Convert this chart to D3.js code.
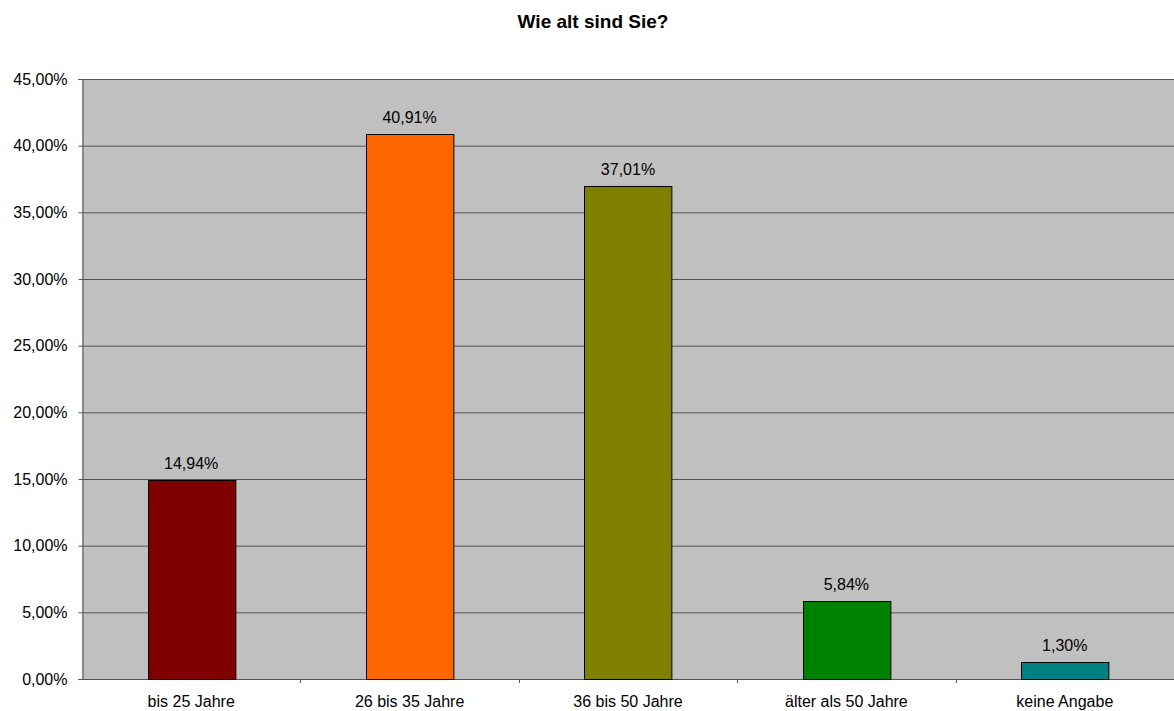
<!DOCTYPE html>
<html><head><meta charset="utf-8">
<script src="https://cdn.jsdelivr.net/npm/d3@7"></script>
<style>body{margin:0;background:#fff}svg{display:block;font-family:"Liberation Sans",Arial,sans-serif}</style>
</head><body><svg id="c" width="1174" height="711"></svg>
<script>
const title = "Wie alt sind Sie?";
const categories = ["bis 25 Jahre","26 bis 35 Jahre","36 bis 50 Jahre","älter als 50 Jahre","keine Angabe"];
const values = [14.94, 40.91, 37.01, 5.84, 1.30];
const colors = ["#800000","#ff6600","#808000","#008000","#008080"];
const yTicks = [0,5,10,15,20,25,30,35,40,45];

const svg = d3.select("#c");
const m = {left:82, right:1174, top:79, bottom:679};
const fmt = v => v.toFixed(2).replace(".", ",") + "%";
const FS = 16;

const x = d3.scaleBand().domain(categories).range([m.left, m.right]).paddingInner(0.6).paddingOuter(0.3);
const xc = d3.scaleBand().domain(categories).range([m.left, m.right]);
const y = d3.scaleLinear().domain([0,45]).range([m.bottom, m.top]);

svg.append("rect").attr("x",m.left).attr("y",m.top).attr("width",m.right-m.left).attr("height",m.bottom-m.top).attr("fill","#c0c0c0");

svg.append("g").selectAll("line").data(yTicks.filter(d=>d>0)).join("line")
  .attr("x1",m.left).attr("x2",m.right).attr("y1",d=>y(d)+0.5).attr("y2",d=>y(d)+0.5)
  .attr("stroke","#555").attr("stroke-width",1);

const yAxis = svg.append("g").attr("transform",`translate(${m.left+0.5},0)`)
  .call(d3.axisLeft(y).tickValues(yTicks).tickFormat(fmt).tickSize(4).tickPadding(11));
yAxis.select(".domain").attr("stroke","#555");
yAxis.selectAll(".tick line").attr("stroke","#555");
yAxis.selectAll("text").attr("font-size",FS).attr("fill","#000").attr("font-family","Liberation Sans, Arial, sans-serif");

svg.append("g").selectAll("line").data(categories.slice(1)).join("line")
  .attr("x1",d=>Math.round(xc(d))+0.5).attr("x2",d=>Math.round(xc(d))+0.5)
  .attr("y1",m.bottom).attr("y2",m.bottom+4).attr("stroke","#555");
svg.append("line").attr("x1",m.left).attr("x2",m.right).attr("y1",m.bottom+0.5).attr("y2",m.bottom+0.5).attr("stroke","#555");

svg.append("g").selectAll("rect").data(values).join("rect")
  .attr("x",(d,i)=>Math.round(x(categories[i]))+0.5)
  .attr("y",d=>Math.round(y(d))+0.5)
  .attr("width",x.bandwidth())
  .attr("height",d=>m.bottom-Math.round(y(d)))
  .attr("fill",(d,i)=>colors[i]).attr("stroke","#000").attr("stroke-width",1);

svg.append("g").selectAll("text").data(values).join("text")
  .attr("x",(d,i)=>x(categories[i])+x.bandwidth()/2)
  .attr("y",d=>y(d)-11)
  .attr("text-anchor","middle").attr("font-size",FS).attr("fill","#000")
  .text(fmt);

svg.append("g").selectAll("text").data(categories).join("text")
  .attr("x",d=>xc(d)+xc.bandwidth()/2).attr("y",m.bottom+28)
  .attr("text-anchor","middle").attr("font-size",FS).attr("fill","#000").text(d=>d);

svg.append("text").attr("x",593).attr("y",28).attr("text-anchor","middle")
  .attr("font-size",19).attr("font-weight","bold").text(title);
</script></body></html>
